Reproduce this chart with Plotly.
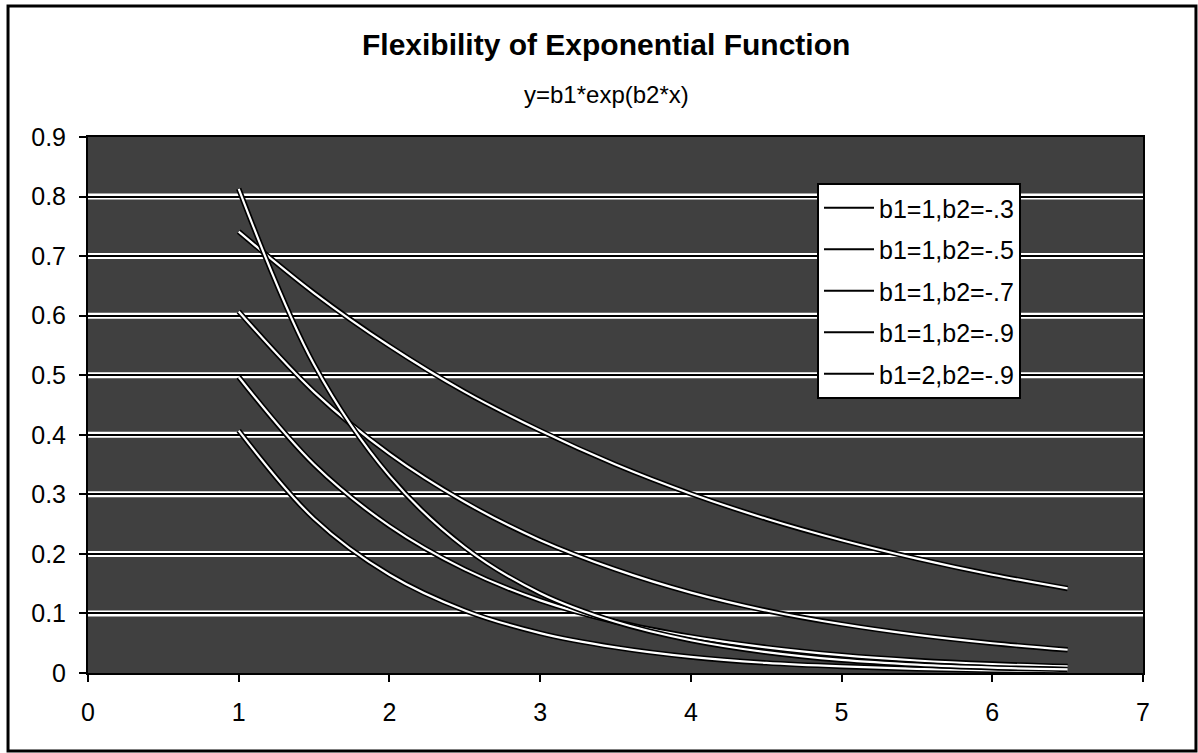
import plotly.graph_objects as go

# Sample points of y = b1*exp(b2*x) for each parameter pair
x_vals = [1, 1.5, 2, 2.5, 3, 3.5, 4, 4.5, 5, 5.5, 6, 6.5]

y_b1_1_b2_03 = [0.741, 0.638, 0.549, 0.472, 0.407, 0.350, 0.301, 0.259, 0.223, 0.192, 0.165, 0.142]
y_b1_1_b2_05 = [0.607, 0.472, 0.368, 0.287, 0.223, 0.174, 0.135, 0.105, 0.082, 0.064, 0.050, 0.039]
y_b1_1_b2_07 = [0.497, 0.350, 0.247, 0.174, 0.122, 0.086, 0.061, 0.043, 0.030, 0.021, 0.015, 0.011]
y_b1_1_b2_09 = [0.407, 0.259, 0.165, 0.105, 0.067, 0.043, 0.027, 0.017, 0.011, 0.007, 0.0045, 0.0029]
y_b1_2_b2_09 = [0.813, 0.518, 0.331, 0.211, 0.134, 0.086, 0.055, 0.035, 0.022, 0.014, 0.009, 0.006]

series_names = ["b1=1,b2=-.3", "b1=1,b2=-.5", "b1=1,b2=-.7", "b1=1,b2=-.9", "b1=2,b2=-.9"]
series_values = [y_b1_1_b2_03, y_b1_1_b2_05, y_b1_1_b2_07, y_b1_1_b2_09, y_b1_2_b2_09]

x_ticks = [0, 1, 2, 3, 4, 5, 6, 7]
y_ticks = [0, 0.1, 0.2, 0.3, 0.4, 0.5, 0.6, 0.7, 0.8, 0.9]
y_tick_text = ["0", "0.1", "0.2", "0.3", "0.4", "0.5", "0.6", "0.7", "0.8", "0.9"]

X_RANGE = [0, 7]
Y_RANGE = [0, 0.9]

FONT = "Liberation Sans, Arial, sans-serif"

fig = go.Figure()

for name, ys in zip(series_names, series_values):
    # dark outline
    fig.add_trace(go.Scatter(x=x_vals, y=ys, mode="lines", line=dict(color="black", width=5.5, shape="spline"),
                             showlegend=False, legendgroup=name, hoverinfo="skip"))
    # light core
    fig.add_trace(go.Scatter(x=x_vals, y=ys, mode="lines", line=dict(color="white", width=2.2, shape="spline"),
                             showlegend=False, legendgroup=name, name=name))
    # legend entry
    fig.add_trace(go.Scatter(x=[None], y=[None], mode="lines", line=dict(color="black", width=2),
                             name=name, legendgroup=name, showlegend=True))

# white halo behind each black gridline
for v in y_ticks[1:-1]:
    fig.add_shape(type="line", xref="x", yref="y", x0=X_RANGE[0], x1=X_RANGE[1], y0=v, y1=v,
                  line=dict(color="white", width=6), layer="below")

# outer chart border
fig.add_shape(type="rect", xref="paper", yref="paper",
              x0=-0.0758, x1=1.0502, y0=-0.1455, y1=1.2444,
              line=dict(color="black", width=3), fillcolor="rgba(0,0,0,0)", layer="above")

fig.add_annotation(text="<b>Flexibility of Exponential Function</b>", xref="paper", yref="paper",
                   x=0.491, y=1.172, xanchor="center", yanchor="middle", showarrow=False,
                   font=dict(family=FONT, size=30, color="black"))
fig.add_annotation(text="y=b1*exp(b2*x)", xref="paper", yref="paper",
                   x=0.491, y=1.080, xanchor="center", yanchor="middle", showarrow=False,
                   font=dict(family=FONT, size=24, color="black"))

fig.update_layout(
    width=1198, height=753,
    margin=dict(l=88, r=55, t=137, b=80),
    paper_bgcolor="white",
    plot_bgcolor="rgb(64,64,64)",
    font=dict(family=FONT, size=25, color="black"),
    showlegend=True,
    legend=dict(x=0.691, y=0.914, xanchor="left", yanchor="top",
                bgcolor="white", bordercolor="black", borderwidth=2,
                font=dict(family=FONT, size=25, color="black"),
                tracegroupgap=6, itemwidth=50),
    xaxis=dict(range=X_RANGE, tickvals=x_ticks, ticks="outside", ticklen=7, tickwidth=2, tickcolor="black",
               showline=True, linecolor="black", linewidth=2, mirror=True, showgrid=False, zeroline=False,
               ticklabelstandoff=9, tickfont=dict(family=FONT, size=25)),
    yaxis=dict(range=Y_RANGE, tickvals=y_ticks, ticktext=y_tick_text, ticks="outside", ticklen=7, tickwidth=2,
               tickcolor="black", showline=True, linecolor="black", linewidth=2, mirror=True,
               showgrid=True, gridcolor="black", gridwidth=2, zeroline=False,
               ticklabelstandoff=8, tickfont=dict(family=FONT, size=25)),
)

fig.write_html("out.html")
